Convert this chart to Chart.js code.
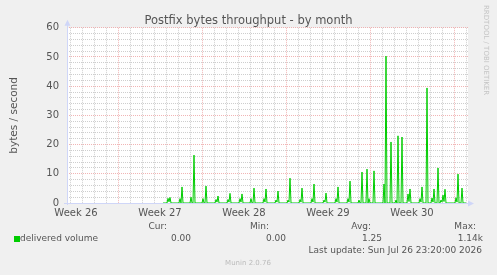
<!DOCTYPE html>
<html>
<head>
<meta charset="utf-8">
<script src="https://cdn.jsdelivr.net/npm/chart.js@4.4.0/dist/chart.umd.min.js"></script>
<style>
  html, body { margin: 0; padding: 0; background: #f0f0f0; }
</style>
</head>
<body>
<canvas id="chart" width="497" height="275"></canvas>
<script>
// hours since Mon 00:00 of week 26, one sample every 2h (from the picture)
const hours = [
  258, 266, 268, 270, 272, 274,
  290, 292, 294, 296, 298,
  312, 314, 316, 318, 320, 322,
  336, 338, 340, 342, 344, 346,
  362, 364, 366, 368, 370,
  386, 388, 390, 392, 394,
  410, 412, 414, 416, 418,
  432, 434, 436, 438, 440, 442,
  458, 460, 462, 464, 466,
  482, 484, 486, 488, 490,
  506, 508, 510, 512, 514,
  530, 532, 534, 536, 538,
  554, 556, 558, 560, 562,
  578, 580, 582, 584, 586,
  602, 604, 606, 608, 610,
  626, 628, 630, 632, 634,
  648, 650, 652, 654, 656, 658,
  664, 666, 668, 670, 672,
  678, 680, 682,
  698, 700, 702, 704, 706,
  712, 714, 716,
  722, 724, 726, 728, 730, 734, 736, 738,
  746, 748, 750, 752, 754,
  770, 772, 774, 776, 778, 784, 786, 788,
  794, 796, 798, 800, 802, 806, 808, 810,
  812, 814, 816, 818, 820, 822, 824,
  842, 844, 846, 848, 850, 854, 856, 858,
  864
];
const delivered = [
  0, 0, 1.6, 0.4, 1.9, 0,
  0, 1.5, 0, 5.5, 0,
  0, 2.0, 0, 0, 16.4, 0,
  0, 1.5, 0, 0, 5.8, 0,
  0, 1.2, 0.3, 2.4, 0,
  0, 1.2, 0.3, 3.3, 0,
  0, 1.5, 0.3, 3.1, 0,
  0, 1.5, 0, 0, 5.1, 0,
  0, 1.5, 0.3, 4.8, 0,
  0, 1.0, 0.3, 4.1, 0,
  0, 1.0, 0.3, 8.5, 0,
  0, 1.2, 0.3, 5.1, 0,
  0, 1.5, 0.3, 6.5, 0,
  0, 1.0, 0.3, 3.4, 0,
  0, 1.5, 0.3, 5.5, 0,
  0, 1.5, 0.3, 7.5, 0,
  0, 1.0, 0, 0, 10.6, 0,
  0, 11.6, 0, 1.5, 0,
  0, 11.0, 0,
  0, 6.5, 0, 50.3, 0,
  0, 20.9, 0,
  0, 1.0, 0, 23.0, 0, 0, 22.6, 0,
  0, 3.1, 0.5, 4.8, 0,
  0, 1.5, 0.3, 5.5, 0, 0, 39.4, 0,
  0, 1.7, 0.3, 4.8, 0, 0, 12.0, 0,
  0, 1.0, 0.3, 2.7, 0.5, 4.7, 0,
  0, 1.8, 0.3, 9.9, 0, 0, 5.1, 0,
  0
];
const weekLabels = ['Week 26', 'Week 27', 'Week 28', 'Week 29', 'Week 30'];
const legendHeads = ['Cur:', 'Min:', 'Avg:', 'Max:'];
const legendValues = ['0.00', '0.00', '1.25', '1.14k'];

const font = 'DejaVu Sans';
const redGrid = 'rgba(235,150,150,0.7)';
const greyGrid = 'rgba(190,190,190,0.75)';
const axisBlue = '#cfd6f8';

const points = hours.map((h, i) => ({ x: h, y: delivered[i] }));

const rrdDecor = {
  id: 'rrdDecor',
  beforeDraw(chart) {
    const { ctx, chartArea: a } = chart;
    ctx.save();
    ctx.fillStyle = '#f0f0f0';
    ctx.fillRect(0, 0, chart.width, chart.height);
    ctx.fillStyle = '#ffffff';
    ctx.fillRect(a.left, a.top, a.right - a.left, a.bottom - a.top);
    ctx.restore();
  },
  beforeDatasetsDraw(chart) {
    const { ctx, chartArea: a } = chart;
    ctx.save();
    ctx.strokeStyle = axisBlue;
    ctx.fillStyle = axisBlue;
    ctx.lineWidth = 1;
    ctx.beginPath();
    ctx.moveTo(a.left + 0.5, a.bottom + 2);
    ctx.lineTo(a.left + 0.5, a.top - 4);
    ctx.moveTo(a.left - 3, a.bottom + 0.5);
    ctx.lineTo(a.right + 3, a.bottom + 0.5);
    ctx.stroke();
    ctx.beginPath();
    ctx.moveTo(a.left + 0.5, a.top - 8);
    ctx.lineTo(a.left - 2.5, a.top - 2);
    ctx.lineTo(a.left + 3.5, a.top - 2);
    ctx.fill();
    ctx.beginPath();
    ctx.moveTo(a.right + 6, a.bottom + 0.5);
    ctx.lineTo(a.right, a.bottom - 2.5);
    ctx.lineTo(a.right, a.bottom + 3.5);
    ctx.fill();
    ctx.restore();
  },
  afterDraw(chart) {
    const ctx = chart.ctx;
    ctx.save();
    // watermark
    ctx.translate(484, 5);
    ctx.rotate(Math.PI / 2);
    ctx.font = '7px "' + font + '"';
    ctx.fillStyle = '#c4c4c4';
    ctx.textBaseline = 'alphabetic';
    ctx.fillText('RRDTOOL / TOBI OETIKER', 0, 0);
    ctx.restore();

    ctx.save();
    ctx.font = '9px "' + font + '"';
    ctx.fillStyle = '#555';
    ctx.textBaseline = 'middle';
    ctx.textAlign = 'right';
    const headX = [167, 269, 371, 476];
    const valX = [191, 286, 382, 483];
    legendHeads.forEach((t, i) => ctx.fillText(t, headX[i], 227));
    legendValues.forEach((t, i) => ctx.fillText(t, valX[i], 239));
    ctx.fillText('Last update: Sun Jul 26 23:20:00 2026', 482, 251);
    ctx.textAlign = 'left';
    ctx.fillText('delivered volume', 20, 239);
    ctx.fillStyle = '#00cc00';
    ctx.fillRect(14, 236, 6, 6);
    ctx.font = '7px "' + font + '"';
    ctx.fillStyle = '#bbb';
    ctx.textAlign = 'center';
    ctx.fillText('Munin 2.0.76', 248, 263);
    ctx.restore();
  }
};

new Chart(document.getElementById('chart'), {
  type: 'line',
  data: {
    datasets: [{
      data: points,
      borderColor: '#00cc00',
      borderWidth: 1,
      pointRadius: 0,
      tension: 0,
      fill: false
    }]
  },
  options: {
    responsive: false,
    animation: false,
    layout: { padding: { left: 0, right: 0, top: 0, bottom: 55 } },
    plugins: {
      legend: { display: false },
      tooltip: { enabled: false },
      title: {
        display: true,
        text: 'Postfix bytes throughput - by month',
        color: '#555',
        font: { family: font, size: 11.5, weight: 'normal' },
        padding: { top: 14, bottom: 0 }
      }
    },
    scales: {
      x: {
        type: 'linear',
        min: 66,
        max: 868,
        afterBuildTicks(scale) {
          const t = [];
          for (let h = 72; h <= 864; h += 12) t.push({ value: h });
          scale.ticks = t;
        },
        afterFit(scale) { scale.height = 17; },
        grid: {
          drawTicks: false,
          color(c) {
            const v = c.tick.value;
            if (v % 168 === 0) return redGrid;
            if (v % 24 === 0) return greyGrid;
            return 'rgba(0,0,0,0)';
          }
        },
        border: { display: false, dash: [1, 1] },
        ticks: {
          autoSkip: false,
          maxRotation: 0,
          padding: 4,
          color: '#555',
          font: { family: font, size: 10 },
          callback(v) {
            return (v - 84) % 168 === 0 ? weekLabels[(v - 84) / 168] : '';
          }
        }
      },
      y: {
        min: 0,
        max: 60,
        afterBuildTicks(scale) {
          const t = [];
          for (let v = 0; v <= 60; v += 2) t.push({ value: v });
          scale.ticks = t;
        },
        afterFit(scale) { scale.width = 67; },
        grid: {
          drawTicks: false,
          color(c) {
            return c.tick.value % 10 === 0 ? redGrid : greyGrid;
          }
        },
        border: { display: false, dash: [1, 1] },
        ticks: {
          autoSkip: false,
          padding: 8,
          color: '#555',
          font: { family: font, size: 10 },
          callback(v) { return v % 10 === 0 ? String(v) : ''; }
        },
        title: {
          display: true,
          text: 'bytes / second',
          color: '#555',
          font: { family: font, size: 10.5 },
          padding: { top: 8, bottom: 0 }
        }
      },
      // empty right-hand strip that holds the watermark
      yRight: {
        position: 'right',
        min: 0,
        max: 60,
        afterFit(scale) { scale.width = 29; },
        grid: { display: false },
        border: { display: false },
        ticks: { display: false }
      }
    }
  },
  plugins: [rrdDecor]
});
</script>
</body>
</html>
